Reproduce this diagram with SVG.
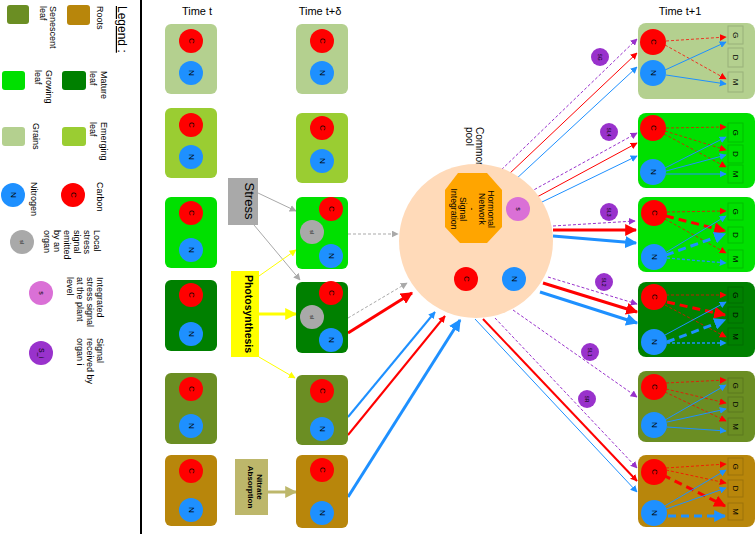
<svg xmlns="http://www.w3.org/2000/svg" width="756" height="534" viewBox="0 0 756 534">
<defs>
<style>
text{font-family:"Liberation Sans",Arial,sans-serif;fill:#000}
.lg{font-size:9px}
.hd{font-size:11px;text-anchor:middle}
.ci{font-size:8px;text-anchor:middle;dominant-baseline:central}
.cs{font-size:5px;text-anchor:middle;dominant-baseline:central}
.grains{fill:#b4d08f}.emerging{fill:#9acd32}.growing{fill:#00e000}.mature{fill:#008000}.senescent{fill:#6b8e23}.roots{fill:#b8860b}
.cC{fill:#ff0000}.cN{fill:#1e90ff}.cL{fill:#a9a9a9}.cS{fill:#da70d6}.cP{fill:#9932cc}
.sq{fill:none;stroke:#000;stroke-opacity:0.15;stroke-width:1}
line{fill:none}
.r1{stroke:#ff0000;stroke-width:1}.r2{stroke:#ff0000;stroke-width:2}.r3{stroke:#ff0000;stroke-width:3}
.b1{stroke:#1e90ff;stroke-width:1}.b2{stroke:#1e90ff;stroke-width:2}.b3{stroke:#1e90ff;stroke-width:3}
.rd{stroke:#ff0000;stroke-width:1;stroke-dasharray:3 2;stroke-opacity:0.75}
.rd3{stroke:#ff0000;stroke-width:3;stroke-dasharray:8 5}
.bd{stroke:#1e90ff;stroke-width:1.3;stroke-dasharray:3 2}
.bd3{stroke:#1e90ff;stroke-width:3;stroke-dasharray:8 5}
.pd{stroke:#9932cc;stroke-width:1;stroke-dasharray:3 2}
.gd{stroke:#a9a9a9;stroke-width:1;stroke-dasharray:3 2}
.g1{stroke:#a9a9a9;stroke-width:1}
.y1{stroke:#ffff00;stroke-width:1}.y3{stroke:#ffff00;stroke-width:3}
.k3{stroke:#bdb76b;stroke-width:3}
</style>
<marker id="aR" viewBox="0 0 10 10" refX="9" refY="5" markerWidth="7" markerHeight="7" markerUnits="userSpaceOnUse" orient="auto"><path d="M0,0L10,5L0,10z" fill="#ff0000"/></marker>
<marker id="aRL" viewBox="0 0 10 10" refX="9" refY="5" markerWidth="12" markerHeight="12" markerUnits="userSpaceOnUse" orient="auto"><path d="M0,0L10,5L0,10z" fill="#ff0000"/></marker>
<marker id="aB" viewBox="0 0 10 10" refX="9" refY="5" markerWidth="7" markerHeight="7" markerUnits="userSpaceOnUse" orient="auto"><path d="M0,0L10,5L0,10z" fill="#1e90ff"/></marker>
<marker id="aBL" viewBox="0 0 10 10" refX="9" refY="5" markerWidth="12" markerHeight="12" markerUnits="userSpaceOnUse" orient="auto"><path d="M0,0L10,5L0,10z" fill="#1e90ff"/></marker>
<marker id="aP" viewBox="0 0 10 10" refX="9" refY="5" markerWidth="7" markerHeight="7" markerUnits="userSpaceOnUse" orient="auto"><path d="M0,0L10,5L0,10z" fill="#9932cc"/></marker>
<marker id="aG" viewBox="0 0 10 10" refX="9" refY="5" markerWidth="7" markerHeight="7" markerUnits="userSpaceOnUse" orient="auto"><path d="M0,0L10,5L0,10z" fill="#a9a9a9"/></marker>
<marker id="aY" viewBox="0 0 10 10" refX="9" refY="5" markerWidth="7" markerHeight="7" markerUnits="userSpaceOnUse" orient="auto"><path d="M0,0L10,5L0,10z" fill="#ffff00"/></marker>
<marker id="aYL" viewBox="0 0 10 10" refX="9" refY="5" markerWidth="12" markerHeight="12" markerUnits="userSpaceOnUse" orient="auto"><path d="M0,0L10,5L0,10z" fill="#ffff00"/></marker>
<marker id="aK" viewBox="0 0 10 10" refX="9" refY="5" markerWidth="12" markerHeight="12" markerUnits="userSpaceOnUse" orient="auto"><path d="M0,0L10,5L0,10z" fill="#bdb76b"/></marker>
</defs>
<rect width="756" height="534" fill="#fff"/>

<!-- Legend -->
<g id="legend">
<line x1="141" y1="0" x2="141" y2="534" stroke="#000" stroke-width="2"/>
<text transform="translate(118,6) rotate(90)" style="font-size:12px;text-decoration:underline">Legend :</text>
<rect class="roots" x="67" y="5" width="23" height="20" rx="3"/>
<text class="lg" transform="translate(97,6) rotate(90)">Roots</text>
<rect class="senescent" x="7" y="5" width="22" height="19" rx="3"/>
<text class="lg" transform="translate(50,6) rotate(90)"><tspan x="0" y="0">Senescent</tspan><tspan x="0" dy="10">leaf</tspan></text>
<rect class="mature" x="62" y="71" width="24" height="19" rx="3"/>
<text class="lg" transform="translate(101,71) rotate(90)"><tspan x="0" y="0">Mature</tspan><tspan x="0" dy="11">leaf</tspan></text>
<rect class="growing" x="2" y="71" width="23" height="19" rx="3"/>
<text class="lg" transform="translate(46,70) rotate(90)"><tspan x="0" y="0">Growing</tspan><tspan x="0" dy="11">leaf</tspan></text>
<rect class="emerging" x="62" y="127" width="24" height="19" rx="3"/>
<text class="lg" transform="translate(101,122) rotate(90)"><tspan x="0" y="0">Emerging</tspan><tspan x="0" dy="11">leaf</tspan></text>
<rect class="grains" x="2" y="127" width="23" height="19" rx="3"/>
<text class="lg" transform="translate(33,123) rotate(90)">Grains</text>
<circle class="cC" cx="73" cy="195" r="12"/>
<text class="ci" transform="translate(73,195) rotate(90)">C</text>
<text class="lg" transform="translate(97,182) rotate(90)">Carbon</text>
<circle class="cN" cx="13" cy="195" r="12"/>
<text class="ci" transform="translate(13,195) rotate(90)">N</text>
<text class="lg" transform="translate(31,182) rotate(90)">Nitrogen</text>
<circle class="cL" cx="22" cy="242" r="12"/>
<text class="cs" transform="translate(22,242) rotate(90)">sl</text>
<text class="lg" transform="translate(94,230) rotate(90)"><tspan x="0" y="0">Local</tspan><tspan x="0" dy="10">stress</tspan><tspan x="0" dy="10">signal</tspan><tspan x="0" dy="10">emitted</tspan><tspan x="0" dy="10">by an</tspan><tspan x="0" dy="10">organ</tspan></text>
<circle class="cS" cx="41" cy="293" r="12"/>
<text class="ci" style="font-size:7px" transform="translate(41,293) rotate(90)">s</text>
<text class="lg" transform="translate(97,277) rotate(90)"><tspan x="0" y="0">Integrated</tspan><tspan x="0" dy="10">stress signal</tspan><tspan x="0" dy="10">at the plant</tspan><tspan x="0" dy="10">level</tspan></text>
<circle class="cP" cx="41" cy="353" r="12"/>
<text class="ci" style="font-size:7px" transform="translate(41,353) rotate(90)">S_i</text>
<text class="lg" transform="translate(97,338) rotate(90)"><tspan x="0" y="0">Signal</tspan><tspan x="0" dy="10">received by</tspan><tspan x="0" dy="10">organ i</tspan></text>
</g>

<!-- Headers -->
<text class="hd" x="197" y="15">Time t</text>
<text class="hd" x="320" y="15">Time t+δ</text>
<text class="hd" x="680" y="15">Time t+1</text>

<!-- Connectors -->
<g id="connectors">
<line class="g1" x1="258" y1="193" x2="296" y2="211" marker-end="url(#aG)"/>
<line class="g1" x1="254" y1="225" x2="300" y2="280" marker-end="url(#aG)"/>
<line class="y1" x1="259" y1="276" x2="296" y2="250" marker-end="url(#aY)"/>
<line class="y3" x1="259" y1="314" x2="296" y2="314" marker-end="url(#aYL)"/>
<line class="y1" x1="259" y1="357" x2="295" y2="378" marker-end="url(#aY)"/>
<line class="k3" x1="268" y1="492" x2="296" y2="492" marker-end="url(#aK)"/>

<line class="gd" x1="348" y1="234" x2="398" y2="234" marker-end="url(#aG)"/>
<line class="gd" x1="348" y1="318" x2="407" y2="283" marker-end="url(#aG)"/>
<line class="r3" x1="348" y1="333" x2="412" y2="293" marker-end="url(#aRL)"/>
<line class="b2" x1="348" y1="417" x2="435" y2="312" marker-end="url(#aB)"/>
<line class="r2" x1="348" y1="435" x2="445" y2="316" marker-end="url(#aB)" style="marker-end:url(#aR)"/>
<line class="b3" x1="348" y1="497" x2="460" y2="320" marker-end="url(#aBL)"/>

<line class="pd" x1="498" y1="173" x2="637" y2="39" marker-end="url(#aP)"/>
<line class="r1" x1="508" y1="175" x2="637" y2="53" marker-end="url(#aR)"/>
<line class="b1" x1="515" y1="180" x2="637" y2="67" marker-end="url(#aB)"/>

<line class="pd" x1="530" y1="192" x2="637" y2="133" marker-end="url(#aP)"/>
<line class="r1" x1="537" y1="197" x2="637" y2="143" marker-end="url(#aR)"/>
<line class="b1" x1="542" y1="202" x2="637" y2="156" marker-end="url(#aB)"/>

<line class="pd" x1="553" y1="226" x2="635" y2="221" marker-end="url(#aP)"/>
<line class="r3" x1="553" y1="230" x2="636" y2="230" marker-end="url(#aRL)"/>
<line class="b3" x1="553" y1="236" x2="636" y2="243" marker-end="url(#aBL)"/>

<line class="pd" x1="548" y1="277" x2="637" y2="304" marker-end="url(#aP)"/>
<line class="r3" x1="543" y1="283" x2="637" y2="312" marker-end="url(#aRL)"/>
<line class="b3" x1="540" y1="292" x2="637" y2="323" marker-end="url(#aBL)"/>

<line class="pd" x1="513" y1="310" x2="637" y2="397" marker-end="url(#aP)"/>

<line class="pd" x1="495" y1="318" x2="637" y2="468" marker-end="url(#aP)"/>
<line class="r2" x1="483" y1="319" x2="637" y2="481" marker-end="url(#aR)"/>
<line class="b1" x1="475" y1="319" x2="637" y2="492" marker-end="url(#aB)"/>
</g>

<!-- Time t nodes -->
<g id="t-grains"><rect class="grains" x="165" y="24" width="52" height="70" rx="6"/><circle class="cC" cx="191" cy="41" r="12"/><text class="ci" transform="translate(191,41) rotate(90)">C</text><circle class="cN" cx="191" cy="73" r="12"/><text class="ci" transform="translate(191,73) rotate(90)">N</text></g>
<g id="t-emerging"><rect class="emerging" x="165" y="108" width="52" height="70" rx="6"/><circle class="cC" cx="191" cy="125" r="12"/><text class="ci" transform="translate(191,125) rotate(90)">C</text><circle class="cN" cx="191" cy="157" r="12"/><text class="ci" transform="translate(191,157) rotate(90)">N</text></g>
<g id="t-growing"><rect class="growing" x="165" y="197" width="52" height="71" rx="6"/><circle class="cC" cx="191" cy="213" r="12"/><text class="ci" transform="translate(191,213) rotate(90)">C</text><circle class="cN" cx="191" cy="250" r="12"/><text class="ci" transform="translate(191,250) rotate(90)">N</text></g>
<g id="t-mature"><rect class="mature" x="165" y="280" width="52" height="71" rx="6"/><circle class="cC" cx="191" cy="295" r="12"/><text class="ci" transform="translate(191,295) rotate(90)">C</text><circle class="cN" cx="191" cy="334" r="12"/><text class="ci" transform="translate(191,334) rotate(90)">N</text></g>
<g id="t-senescent"><rect class="senescent" x="165" y="373" width="52" height="71" rx="6"/><circle class="cC" cx="191" cy="389" r="12"/><text class="ci" transform="translate(191,389) rotate(90)">C</text><circle class="cN" cx="191" cy="426" r="12"/><text class="ci" transform="translate(191,426) rotate(90)">N</text></g>
<g id="t-roots"><rect class="roots" x="165" y="455" width="52" height="71" rx="6"/><circle class="cC" cx="191" cy="471" r="12"/><text class="ci" transform="translate(191,471) rotate(90)">C</text><circle class="cN" cx="191" cy="510" r="12"/><text class="ci" transform="translate(191,510) rotate(90)">N</text></g>

<!-- Drivers -->
<g id="stress"><rect x="228" y="178" width="30" height="47" fill="#a9a9a9"/><text transform="translate(245,201) rotate(90)" style="font-size:13px;text-anchor:middle">Stress</text></g>
<g id="photosynthesis"><rect x="231" y="271" width="28" height="86" fill="#ffff00"/><text transform="translate(245,314) rotate(90)" style="font-size:10.5px;font-weight:bold;text-anchor:middle">Photosynthesis</text></g>
<g id="nitrate"><rect x="235" y="459" width="33" height="56" fill="#bdb76b"/><text transform="translate(257,487) rotate(90)" style="font-size:8px;font-weight:bold;text-anchor:middle"><tspan x="0" y="0">Nitrate</tspan><tspan x="0" dy="9">Absorption</tspan></text></g>

<!-- Time t+delta nodes -->
<g id="td-grains"><rect class="grains" x="296" y="24" width="52" height="70" rx="6"/><circle class="cC" cx="322" cy="41" r="12"/><text class="ci" transform="translate(322,41) rotate(90)">C</text><circle class="cN" cx="322" cy="73" r="12"/><text class="ci" transform="translate(322,73) rotate(90)">N</text></g>
<g id="td-emerging"><rect class="emerging" x="296" y="113" width="52" height="70" rx="6"/><circle class="cC" cx="322" cy="128" r="12"/><text class="ci" transform="translate(322,128) rotate(90)">C</text><circle class="cN" cx="322" cy="161" r="12"/><text class="ci" transform="translate(322,161) rotate(90)">N</text></g>
<g id="td-growing"><rect class="growing" x="296" y="197" width="52" height="72" rx="6"/><circle class="cC" cx="331" cy="209" r="12"/><text class="ci" transform="translate(331,209) rotate(90)">C</text><circle class="cL" cx="312" cy="232" r="12"/><text class="cs" transform="translate(312,232) rotate(90)">sl</text><circle class="cN" cx="331" cy="256" r="12"/><text class="ci" transform="translate(331,256) rotate(90)">N</text></g>
<g id="td-mature"><rect class="mature" x="296" y="282" width="52" height="71" rx="6"/><circle class="cC" cx="331" cy="293" r="12"/><text class="ci" transform="translate(331,293) rotate(90)">C</text><circle class="cL" cx="312" cy="317" r="12"/><text class="cs" transform="translate(312,317) rotate(90)">sl</text><circle class="cN" cx="331" cy="340" r="12"/><text class="ci" transform="translate(331,340) rotate(90)">N</text></g>
<g id="td-senescent"><rect class="senescent" x="296" y="375" width="52" height="70" rx="6"/><circle class="cC" cx="322" cy="391" r="12"/><text class="ci" transform="translate(322,391) rotate(90)">C</text><circle class="cN" cx="322" cy="429" r="12"/><text class="ci" transform="translate(322,429) rotate(90)">N</text></g>
<g id="td-roots"><rect class="roots" x="296" y="455" width="52" height="73" rx="6"/><circle class="cC" cx="322" cy="470" r="12"/><text class="ci" transform="translate(322,470) rotate(90)">C</text><circle class="cN" cx="322" cy="513" r="12"/><text class="ci" transform="translate(322,513) rotate(90)">N</text></g>

<!-- Common pool -->
<g id="pool">
<text transform="translate(476,127) rotate(90)" style="font-size:10px"><tspan x="0" y="0">Common</tspan><tspan x="0" dy="10">pool</tspan></text>
<circle cx="476" cy="241" r="77" fill="#ffdab9"/>
<polygon points="458,173 487,173 502,190 502,227 487,243 460,243 445,227 445,190" fill="#ffa500"/>
<text transform="translate(488,209) rotate(90)" style="font-size:8.7px;text-anchor:middle"><tspan x="0" y="0">Hormonal</tspan><tspan x="0" dy="9.3">Network</tspan><tspan x="0" dy="9.3">-</tspan><tspan x="0" dy="9.3">Signal</tspan><tspan x="0" dy="9.3">Integration</tspan></text>
<circle class="cS" cx="518" cy="209" r="12"/><text class="ci" style="font-size:7px" transform="translate(518,209) rotate(90)">s</text>
<circle class="cC" cx="466" cy="279" r="12"/><text class="ci" transform="translate(466,279) rotate(90)">C</text>
<circle class="cN" cx="514" cy="279" r="12"/><text class="ci" transform="translate(514,279) rotate(90)">N</text>
</g>

<!-- Signal labels -->
<g id="signals">
<circle class="cP" cx="600" cy="57" r="9"/><text class="cs" transform="translate(600,57) rotate(90)">SG</text>
<circle class="cP" cx="609" cy="132" r="9"/><text class="cs" transform="translate(609,132) rotate(90)">SL4</text>
<circle class="cP" cx="609" cy="212" r="9"/><text class="cs" transform="translate(609,212) rotate(90)">SL3</text>
<circle class="cP" cx="604" cy="282" r="9"/><text class="cs" transform="translate(604,282) rotate(90)">SL2</text>
<circle class="cP" cx="590" cy="352" r="9"/><text class="cs" transform="translate(590,352) rotate(90)">SL1</text>
<circle class="cP" cx="587" cy="399" r="9"/><text class="cs" transform="translate(587,399) rotate(90)">SR</text>
</g>

<!-- Time t+1 nodes -->
<g id="t1-grains">
<rect class="grains" x="638" y="23" width="117" height="76" rx="8"/>
<rect class="sq" x="728" y="26" width="15" height="18"/><text class="ci" transform="translate(735.5,35) rotate(90)">G</text>
<rect class="sq" x="728" y="48" width="15" height="19"/><text class="ci" transform="translate(735.5,57.5) rotate(90)">D</text>
<rect class="sq" x="728" y="72" width="15" height="20"/><text class="ci" transform="translate(735.5,82) rotate(90)">M</text>
<line class="rd" x1="666" y1="41" x2="726" y2="37" marker-end="url(#aR)"/>
<line class="rd" x1="665" y1="45" x2="726" y2="79" marker-end="url(#aR)"/>
<line class="b1" x1="665" y1="70" x2="726" y2="42" marker-end="url(#aB)"/>
<line class="b1" x1="666" y1="75" x2="726" y2="84" marker-end="url(#aB)"/>
<circle class="cC" cx="653" cy="42" r="13"/><text class="ci" transform="translate(653,42) rotate(90)">C</text>
<circle class="cN" cx="653" cy="73" r="13"/><text class="ci" transform="translate(653,73) rotate(90)">N</text>
</g>
<g id="t1-leaf4">
<rect class="growing" x="638" y="113" width="117" height="75" rx="8"/>
<rect class="sq" x="728" y="123" width="15" height="19"/><text class="ci" transform="translate(735.5,132.5) rotate(90)">G</text>
<rect class="sq" x="728" y="145" width="15" height="18"/><text class="ci" transform="translate(735.5,154) rotate(90)">D</text>
<rect class="sq" x="728" y="165" width="15" height="18"/><text class="ci" transform="translate(735.5,174) rotate(90)">M</text>
<line class="rd" x1="666" y1="128" x2="726" y2="127" marker-end="url(#aR)"/>
<line class="rd" x1="665" y1="131" x2="726" y2="150" marker-end="url(#aR)"/>
<line class="rd" x1="664" y1="134" x2="726" y2="167" marker-end="url(#aR)"/>
<line class="b1" x1="665" y1="168" x2="726" y2="137" marker-end="url(#aB)"/>
<line class="b1" x1="666" y1="171" x2="726" y2="155" marker-end="url(#aB)"/>
<line class="b1" x1="666" y1="174" x2="726" y2="174" marker-end="url(#aB)"/>
<circle class="cC" cx="653" cy="128" r="13"/><text class="ci" transform="translate(653,128) rotate(90)">C</text>
<circle class="cN" cx="653" cy="172" r="13"/><text class="ci" transform="translate(653,172) rotate(90)">N</text>
</g>
<g id="t1-leaf3">
<rect class="growing" x="638" y="197" width="117" height="75" rx="8"/>
<rect class="sq" x="728" y="203" width="15" height="17"/><text class="ci" transform="translate(735.5,211.5) rotate(90)">G</text>
<rect class="sq" x="728" y="227" width="15" height="16"/><text class="ci" transform="translate(735.5,235) rotate(90)">D</text>
<rect class="sq" x="728" y="250" width="15" height="18"/><text class="ci" transform="translate(735.5,259) rotate(90)">M</text>
<line class="rd" x1="667" y1="212" x2="726" y2="211" marker-end="url(#aR)"/>
<line class="rd3" x1="666" y1="216" x2="725" y2="231" marker-end="url(#aRL)"/>
<line class="rd" x1="665" y1="219" x2="726" y2="253" marker-end="url(#aR)"/>
<line class="b1" x1="665" y1="253" x2="726" y2="216" marker-end="url(#aB)"/>
<line class="bd3" x1="666" y1="255" x2="725" y2="234" marker-end="url(#aBL)"/>
<line class="bd" x1="667" y1="258" x2="726" y2="263" marker-end="url(#aB)"/>
<circle class="cC" cx="654" cy="213" r="13"/><text class="ci" transform="translate(654,213) rotate(90)">C</text>
<circle class="cN" cx="654" cy="257" r="13"/><text class="ci" transform="translate(654,257) rotate(90)">N</text>
</g>
<g id="t1-leaf2">
<rect class="mature" x="638" y="282" width="117" height="75" rx="8"/>
<rect class="sq" x="728" y="287" width="15" height="16"/><text class="ci" transform="translate(735.5,295) rotate(90)">G</text>
<rect class="sq" x="728" y="307" width="15" height="16"/><text class="ci" transform="translate(735.5,315) rotate(90)">D</text>
<rect class="sq" x="728" y="328" width="15" height="17"/><text class="ci" transform="translate(735.5,336.5) rotate(90)">M</text>
<line class="rd" x1="666" y1="295" x2="726" y2="295" marker-end="url(#aR)"/>
<line class="rd3" x1="667" y1="302" x2="725" y2="315" marker-end="url(#aRL)"/>
<line class="rd" x1="665" y1="305" x2="726" y2="337" marker-end="url(#aR)"/>
<line class="b1" x1="665" y1="335" x2="726" y2="302" marker-end="url(#aB)"/>
<line class="bd3" x1="667" y1="342" x2="725" y2="320" marker-end="url(#aBL)"/>
<line class="bd" x1="667" y1="343" x2="726" y2="343" marker-end="url(#aB)"/>
<circle class="cC" cx="654" cy="297" r="13"/><text class="ci" transform="translate(654,297) rotate(90)">C</text>
<circle class="cN" cx="654" cy="342" r="13"/><text class="ci" transform="translate(654,342) rotate(90)">N</text>
</g>
<g id="t1-leaf1">
<rect class="senescent" x="638" y="371" width="117" height="71" rx="8"/>
<rect class="sq" x="728" y="378" width="15" height="15"/><text class="ci" transform="translate(735.5,385.5) rotate(90)">G</text>
<rect class="sq" x="728" y="397" width="15" height="15"/><text class="ci" transform="translate(735.5,404.5) rotate(90)">D</text>
<rect class="sq" x="728" y="418" width="15" height="17"/><text class="ci" transform="translate(735.5,426.5) rotate(90)">M</text>
<line class="rd" x1="666" y1="383" x2="726" y2="380" marker-end="url(#aR)"/>
<line class="rd" x1="666" y1="389" x2="726" y2="403" marker-end="url(#aR)"/>
<line class="rd" x1="665" y1="392" x2="726" y2="421" marker-end="url(#aR)"/>
<line class="b1" x1="665" y1="420" x2="726" y2="385" marker-end="url(#aB)"/>
<line class="b1" x1="667" y1="422" x2="726" y2="409" marker-end="url(#aB)"/>
<line class="b1" x1="667" y1="427" x2="726" y2="431" marker-end="url(#aB)"/>
<circle class="cC" cx="654" cy="387" r="13"/><text class="ci" transform="translate(654,387) rotate(90)">C</text>
<circle class="cN" cx="654" cy="425" r="13"/><text class="ci" transform="translate(654,425) rotate(90)">N</text>
</g>
<g id="t1-roots">
<rect class="roots" x="638" y="455" width="117" height="72" rx="8"/>
<rect class="sq" x="728" y="458" width="15" height="17"/><text class="ci" transform="translate(735.5,466.5) rotate(90)">G</text>
<rect class="sq" x="728" y="480" width="15" height="17"/><text class="ci" transform="translate(735.5,488.5) rotate(90)">D</text>
<rect class="sq" x="728" y="503" width="15" height="17"/><text class="ci" transform="translate(735.5,511.5) rotate(90)">M</text>
<line class="rd" x1="666" y1="468" x2="726" y2="464" marker-end="url(#aR)"/>
<line class="rd" x1="666" y1="470" x2="726" y2="483" marker-end="url(#aR)"/>
<line class="rd3" x1="663" y1="475" x2="725" y2="506" marker-end="url(#aRL)"/>
<line class="b1" x1="663" y1="507" x2="726" y2="470" marker-end="url(#aB)"/>
<line class="b1" x1="666" y1="509" x2="726" y2="488" marker-end="url(#aB)"/>
<line class="bd3" x1="668" y1="516" x2="725" y2="516" marker-end="url(#aBL)"/>
<circle class="cC" cx="654" cy="472" r="13"/><text class="ci" transform="translate(654,472) rotate(90)">C</text>
<circle class="cN" cx="654" cy="513" r="13"/><text class="ci" transform="translate(654,513) rotate(90)">N</text>
</g>
</svg>
